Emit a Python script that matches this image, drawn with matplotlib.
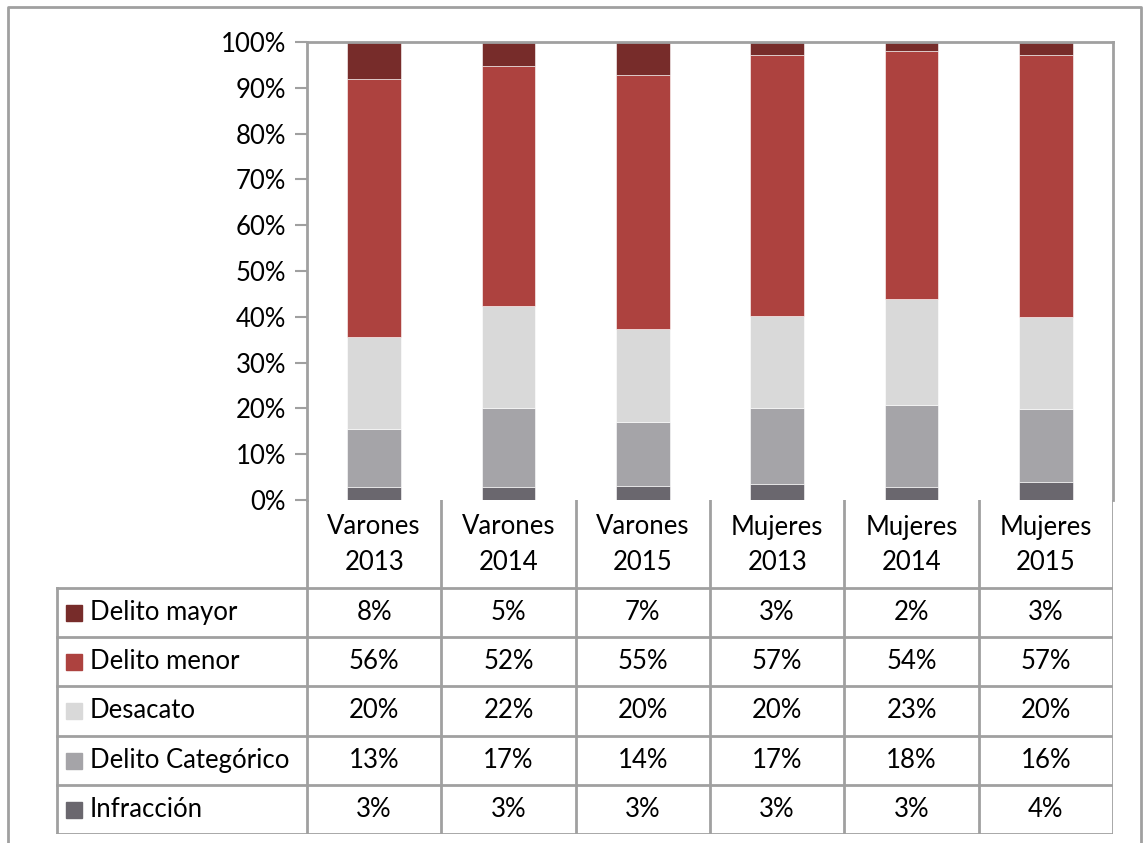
import numpy as np
import matplotlib.pyplot as plt
from matplotlib.patches import Rectangle
from matplotlib.lines import Line2D

plt.rcParams['font.family'] = ['Lato', 'DejaVu Sans']

# datos (porcentajes)
categorias = ['Varones\n2013', 'Varones\n2014', 'Varones\n2015',
              'Mujeres\n2013', 'Mujeres\n2014', 'Mujeres\n2015']
series = ['Delito mayor', 'Delito menor', 'Desacato', 'Delito Categórico', 'Infracción']
infraccion = [2.8, 2.9, 3.0, 3.4, 2.8, 3.9]
categorico = [12.7, 17.2, 14.0, 16.7, 17.9, 16.0]
desacato = [20.0, 22.3, 20.3, 20.1, 23.2, 20.1]
menor = [56.4, 52.4, 55.4, 57.0, 54.1, 57.2]
mayor = [8.1, 5.2, 7.3, 2.8, 2.0, 2.8]
colores = {'Delito mayor': '#772c2a', 'Delito menor': '#ad423f', 'Desacato': '#d9d9d9',
           'Delito Categórico': '#a5a4a8', 'Infracción': '#6a676e'}
valores = {'Delito mayor': mayor, 'Delito menor': menor, 'Desacato': desacato,
           'Delito Categórico': categorico, 'Infracción': infraccion}

W, H = 1145, 843
fig = plt.figure(figsize=(W / 100, H / 100), dpi=100)
grey = '#a0a0a0'
fs = 18.5

def px_axes(l, t, r, b):
    return fig.add_axes([l / W, 1 - b / H, (r - l) / W, (b - t) / H])

# marco exterior
fig.add_artist(Line2D([8 / W, 8 / W, 1141 / W, 1141 / W], [0, 1 - 7 / H, 1 - 7 / H, 0],
                      transform=fig.transFigure, color=grey, lw=2))

# grafico de barras apiladas
ax = px_axes(307, 42, 1113, 500)
x = np.arange(len(categorias))
bottom = np.zeros(len(categorias))
for s in series[::-1]:
    v = np.array(valores[s])
    ax.bar(x, v, 0.4, bottom=bottom, color=colores[s], edgecolor='white', linewidth=0.4)
    bottom += v
ax.set_xlim(-0.5, len(categorias) - 0.5)
ax.set_ylim(0, 100)
ax.set_yticks(np.arange(0, 101, 10))
ax.set_yticklabels(['%d%%' % t for t in range(0, 101, 10)], fontsize=fs)
ax.set_xticks([])
ax.tick_params(axis='y', length=9, width=1.5, color=grey, pad=6)
for sp in ax.spines.values():
    sp.set_color(grey)
    sp.set_linewidth(2)
ax.spines['bottom'].set_visible(False)

# tabla de datos
tx = px_axes(56, 500, 1113, 834)
tx.set_xlim(56, 1113)
tx.set_ylim(834, 500)
tx.axis('off')
cw = (1113 - 307) / len(categorias)
edges = [307 + i * cw for i in range(len(categorias) + 1)]
rows = [500, 588, 637, 686, 736, 785, 834]
kw = dict(color=grey, lw=2, solid_capstyle='projecting')
for e in edges:
    tx.plot([e, e], [500, 834], **kw)
tx.plot([57, 57], [588, 834], **kw)
for r in rows[1:]:
    tx.plot([57, 1113], [r, r], **kw)
for i, c in enumerate(categorias):
    tx.text(edges[i] + cw / 2, 545, c, ha='center', va='center', fontsize=fs, linespacing=1.55)
for j, s in enumerate(series):
    yc = (rows[j + 1] + rows[j + 2]) / 2
    tx.add_patch(Rectangle((66, yc - 8), 16, 16, color=colores[s]))
    tx.text(90, yc, s, ha='left', va='center', fontsize=fs)
    for i, v in enumerate(valores[s]):
        tx.text(edges[i] + cw / 2, yc, '%d%%' % round(v), ha='center', va='center', fontsize=fs)

fig.savefig('out.png', dpi=100)
